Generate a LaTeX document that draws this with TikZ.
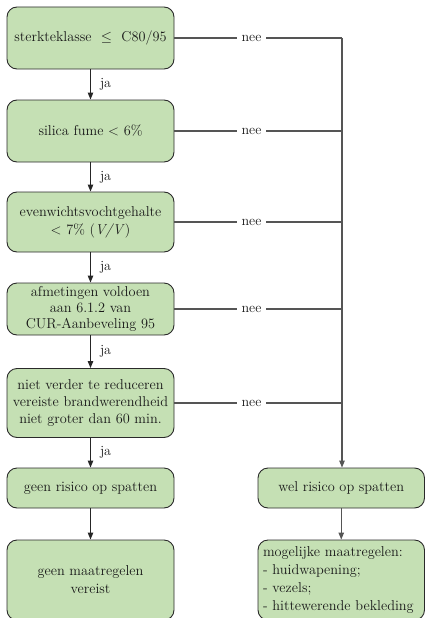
\documentclass[tikz,border=0pt]{standalone}
\usetikzlibrary{arrows.meta}
\definecolor{boxfill}{HTML}{C5E0B4}
\definecolor{linegray}{HTML}{555555}
\definecolor{boxline}{HTML}{2A2A2A}
\begin{document}
\begin{tikzpicture}[x=1pt,y=-1pt,
  box/.style={draw=boxline, line width=0.9pt, fill=boxfill, rounded corners=10pt,
    minimum width=167pt, inner sep=1pt, align=center,
    font=\fontsize{14.3}{18}\selectfont, text=black!90},
  conn/.style={draw=linegray, line width=1.1pt},
  arr/.style={draw=black!85, line width=1pt, -{Triangle[length=7pt,width=5.5pt]}},
  arrg/.style={conn, -{Triangle[length=7pt,width=5.5pt]}},
  lbl/.style={font=\fontsize{14}{16}\selectfont, inner sep=0pt, text=black!90},
  neelbl/.style={fill=white, inner xsep=5pt, inner ysep=1pt, font=\fontsize{14}{16}\selectfont, text=black!90}]
\useasboundingbox (0,0) rectangle (425,618);

% left column
\node[box, minimum height=62pt] (b1) at (90.5,38) {sterkteklasse\ \ $\leq$\ \ C80/95};
\node[box, minimum height=62pt] (b2) at (90.5,131) {silica fume < 6\%};
\node[box, minimum height=60pt] (b3) at (90.5,222) {evenwichtsvochtgehalte\\< 7\% (\textit{V/V})};
\node[box, minimum height=52pt, font=\fontsize{14.3}{16.2}\selectfont] (b4) at (90.5,309) {afmetingen voldoen\\aan 6.1.2 van\\CUR-Aanbeveling 95};
\node[box, minimum height=69pt, font=\fontsize{14.3}{17}\selectfont] (b5) at (90.5,403) {niet verder te reduceren\\vereiste brandwerendheid\\niet groter dan 60 min.};
\node[box, minimum height=40pt] (b6) at (90.5,488) {geen risico op spatten};
\node[box, minimum height=80pt] (b7) at (90.5,580) {geen maatregelen\\vereist};

% right column
\node[box, minimum width=166.5pt, minimum height=40pt] (r1) at (341.25,488) {wel risico op spatten};
\node[box, minimum width=166.5pt, minimum height=80pt, text width=156.5pt, inner xsep=5pt, align=left] (r2) at (341.25,580)
  {mogelijke maatregelen:\\- huidwapening;\\- vezels;\\- hittewerende bekleding};

\coordinate (top) at (342,38);

% ja arrows
\draw[arr] (b1) -- node[lbl, right, xshift=9pt] {ja} (b2);
\draw[arr] (b2) -- node[lbl, right, xshift=9pt] {ja} (b3);
\draw[arr] (b3) -- node[lbl, right, xshift=9pt] {ja} (b4);
\draw[arr] (b4) -- node[lbl, right, xshift=9pt] {ja} (b5);
\draw[arr] (b5) -- node[lbl, right, xshift=9pt] {ja} (b6);
\draw[arr] (b6) -- (b7);

% nee lines
\draw[conn] (b1.east) -- node[neelbl, pos=0.46] {nee} (b1.east -| top);
\draw[conn] (b2.east) -- node[neelbl, pos=0.46] {nee} (b2.east -| top);
\draw[conn] (b3.east) -- node[neelbl, pos=0.46] {nee} (b3.east -| top);
\draw[conn] (b4.east) -- node[neelbl, pos=0.46] {nee} (b4.east -| top);
\draw[conn] (b5.east) -- node[neelbl, pos=0.46] {nee} (b5.east -| top);
\draw[arrg] (top) -- (top |- r1.north);
\draw[arrg] (r1) -- (r2);
\end{tikzpicture}
\end{document}
